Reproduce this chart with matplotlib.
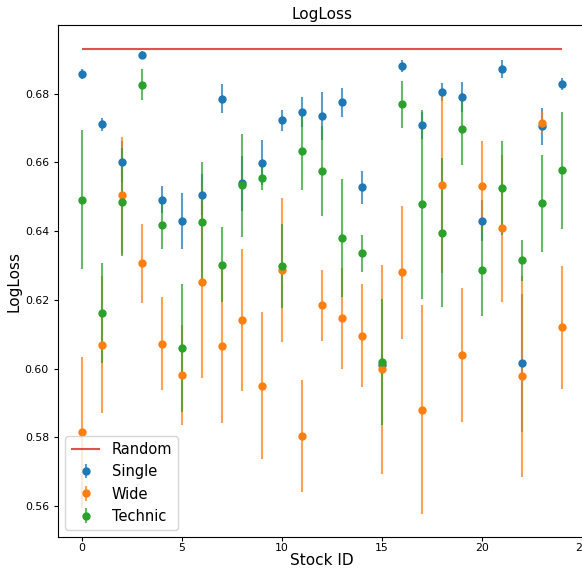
import numpy as np
import matplotlib
matplotlib.use("Agg")
import matplotlib.pyplot as plt
from matplotlib.colors import to_rgba

stock_ids = list(range(25))
random_level = 0.6931

single = [0.6857, 0.6711, 0.6602, 0.6914, 0.6492, 0.6430, 0.6506, 0.6786, 0.6540, 0.6599,
          0.6723, 0.6747, 0.6736, 0.6775, 0.6528, 0.6010, 0.6881, 0.6708, 0.6805, 0.6791,
          0.6430, 0.6872, 0.6016, 0.6705, 0.6829]
single_err = [0.0015, 0.0019, 0.006, 0.001, 0.004, 0.0082, 0.006, 0.0043, 0.008, 0.0066,
              0.0031, 0.0043, 0.007, 0.0043, 0.0048, 0.003, 0.0018, 0.004, 0.0026, 0.0044,
              0.006, 0.0025, 0.02, 0.0053, 0.0017]

wide = [0.5815, 0.6070, 0.6504, 0.6306, 0.6073, 0.5981, 0.6251, 0.6065, 0.6142, 0.5950,
        0.6287, 0.5803, 0.6184, 0.6147, 0.6096, 0.5998, 0.6280, 0.5881, 0.6535, 0.6041,
        0.6531, 0.6408, 0.5978, 0.6716, 0.6120]
wide_err = [0.022, 0.020, 0.017, 0.0115, 0.0136, 0.0145, 0.0278, 0.0224, 0.0207, 0.0214,
            0.021, 0.0163, 0.0104, 0.0147, 0.015, 0.0304, 0.0193, 0.0303, 0.0257, 0.0195,
            0.0131, 0.0213, 0.0292, 0.003, 0.0178]

technic = [0.6492, 0.6161, 0.6485, 0.6826, 0.6418, 0.6060, 0.6427, 0.6303, 0.6534, 0.6555,
           0.6298, 0.6632, 0.6575, 0.6380, 0.6336, 0.6019, 0.6769, 0.6478, 0.6396, 0.6698,
           0.6288, 0.6525, 0.6315, 0.6481, 0.6577]
technic_err = [0.0202, 0.0146, 0.0158, 0.0045, 0.007, 0.0186, 0.0175, 0.0108, 0.015, 0.0036,
               0.0122, 0.0113, 0.0132, 0.0173, 0.0054, 0.0183, 0.0068, 0.0276, 0.0218, 0.0104,
               0.0135, 0.0137, 0.006, 0.0142, 0.017]

fig = plt.figure(figsize=(5.82, 5.72), dpi=100)
ax = fig.add_axes([58 / 582, 35 / 572, 528 / 582, 512 / 572])

ax.hlines(random_level, stock_ids[0], stock_ids[-1], colors="#d62728", alpha=0.8,
          linewidth=1.5, label="Random")

series = [("Single", single, single_err, "#1f77b4"),
          ("Wide", wide, wide_err, "#ff7f0e"),
          ("Technic", technic, technic_err, "#2ca02c")]
for name, vals, errs, col in series:
    ax.errorbar(stock_ids, vals, yerr=errs, fmt="o", color=col, ecolor=to_rgba(col, 0.72),
                elinewidth=1.5, markersize=5, label=name)

ax.set_xlim(-1.2, 25.2)
ax.set_ylim(0.551, 0.700)
ax.set_xticks([0, 5, 10, 15, 20, 25])
ax.set_yticks([0.56, 0.58, 0.60, 0.62, 0.64, 0.66, 0.68])
ax.set_yticklabels(["0.56", "0.58", "0.60", "0.62", "0.64", "0.66", "0.68"])
ax.tick_params(labelsize=7.8, length=3)
ax.tick_params(axis="x", pad=1.5)
ax.set_title("LogLoss", fontsize=11, pad=4)
ax.set_xlabel("Stock ID", fontsize=11, labelpad=0)
ax.set_ylabel("LogLoss", fontsize=11, labelpad=2)
ax.legend(loc="lower left", fontsize=10.5, borderaxespad=0.5)

fig.savefig("out.png", dpi=100)
